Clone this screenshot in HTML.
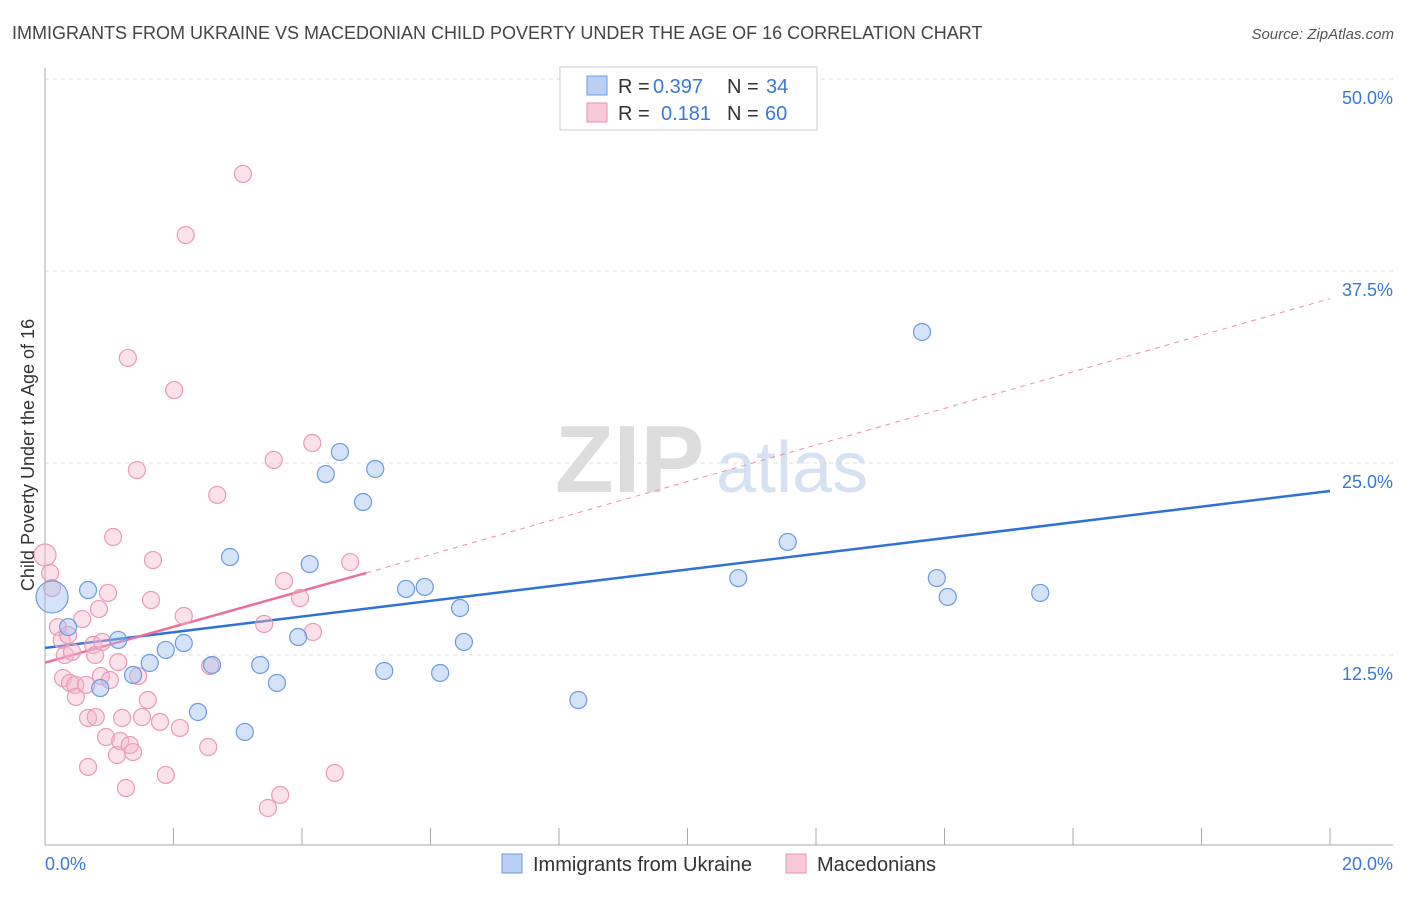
<!DOCTYPE html>
<html><head><meta charset="utf-8"><style>
body{margin:0;background:#fff;font-family:"Liberation Sans",sans-serif;}
svg text{font-family:"Liberation Sans",sans-serif;}
</style></head><body>
<svg id="chart" width="1406" height="892" viewBox="0 0 1406 892">
<text x="12" y="39" font-size="18" fill="#444">IMMIGRANTS FROM UKRAINE VS MACEDONIAN CHILD POVERTY UNDER THE AGE OF 16 CORRELATION CHART</text>
<text x="1394" y="39" font-size="15" fill="#555" text-anchor="end" font-style="italic">Source: ZipAtlas.com</text>
<g>
<text x="555" y="492" font-size="96" fill="#ddd" font-family="Liberation Serif" font-weight="bold">ZIP</text>
<text x="716" y="492" font-size="72" fill="#d6e2f3">atlas</text>
</g>
<g id="grid"></g><g id="axes"></g><g id="trends"></g><g id="points"></g>
<text transform="translate(34,455) rotate(-90)" font-size="18" fill="#333" text-anchor="middle">Child Poverty Under the Age of 16</text>
<g>
<rect x="560" y="67" width="257" height="63" fill="#fff" stroke="#ccc"/>
<rect x="587" y="76" width="20" height="19" fill="#b9d0f2" stroke="#6a9be0"/>
<text x="618" y="93" font-size="20" fill="#333">R =</text>
<text x="653" y="93" font-size="20" fill="#3a78d8">0.397</text>
<text x="727" y="93" font-size="20" fill="#333">N =</text>
<text x="766" y="93" font-size="20" fill="#3a78d8">34</text>
<rect x="587" y="103" width="20" height="19" fill="#f9c9d7" stroke="#e890b0"/>
<text x="618" y="120" font-size="20" fill="#333">R =</text>
<text x="661" y="120" font-size="20" fill="#3a78d8">0.181</text>
<text x="727" y="120" font-size="20" fill="#333">N =</text>
<text x="765" y="120" font-size="20" fill="#3a78d8">60</text>
</g>
<g>
<rect x="502" y="854" width="20" height="19" fill="#b9d0f2" stroke="#6a9be0"/>
<text x="533" y="871" font-size="20" fill="#333">Immigrants from Ukraine</text>
<rect x="786" y="854" width="20" height="19" fill="#f9c9d7" stroke="#e890b0"/>
<text x="817" y="871" font-size="20" fill="#333">Macedonians</text>
</g>
</svg>
<script>
const yTicks=[12.5,25,37.5,50];
const yTickLabels=["12.5%","25.0%","37.5%","50.0%"];
const xTickLabels=["0.0%","20.0%"];
const blueX=[0.11,0.36,0.67,0.86,1.14,1.37,1.63,1.88,2.16,2.38,2.6,2.88,3.11,3.35,3.61,3.94,4.12,4.37,4.59,4.95,5.14,5.28,5.62,5.91,6.15,6.46,6.52,8.3,10.79,11.56,13.65,13.88,14.05,15.49];
const blueY=[16.28,14.32,16.73,10.35,13.48,11.2,11.98,12.83,13.28,8.79,11.85,18.88,7.49,11.85,10.68,13.67,18.42,24.28,25.72,22.46,24.61,11.46,16.8,16.93,11.33,15.56,13.35,9.57,17.51,19.86,33.53,17.51,16.28,16.54];
const pinkX=[0,0.08,0.11,0.2,0.26,0.31,0.36,0.42,0.28,0.39,0.47,0.48,0.58,0.64,0.67,0.67,0.79,0.84,0.87,0.95,0.98,1.01,1.06,1.12,1.14,1.17,1.2,1.26,1.29,1.32,1.37,1.43,1.45,1.51,1.6,1.65,1.68,1.79,1.88,2.01,2.1,2.16,2.19,2.54,2.57,2.68,3.08,3.41,3.47,3.56,3.66,3.72,3.97,4.16,4.17,4.51,4.75,0.75,0.78,0.89];
const pinkY=[19.01,17.84,16.86,14.32,13.48,12.5,13.8,12.7,11.0,10.68,10.55,9.77,14.84,10.55,8.4,5.21,8.46,15.49,11.13,7.16,16.54,10.87,20.18,5.99,12.04,6.9,8.4,3.84,31.84,6.64,6.18,24.54,11.13,8.46,9.57,16.08,18.68,8.14,4.69,29.75,7.75,15.04,39.84,6.51,11.78,22.92,43.82,14.52,2.54,25.2,3.39,17.32,16.21,26.3,14.0,4.82,18.55,13.15,12.5,13.35];
const blueTrend=[12.96,23.18];
const pinkTrend=[12.0,17.84,35.7];
const X=v=>45+v/20*1285, Y=v=>847-v/12.5*192;
const NS="http://www.w3.org/2000/svg";
function mk(p,t,a){const e=document.createElementNS(NS,t);for(const k in a)e.setAttribute(k,a[k]);document.getElementById(p).appendChild(e);return e;}
yTicks.forEach((t,i)=>{
 const g=mk('grid','line',{x1:45,x2:1393,y1:Y(t),y2:Y(t),stroke:'#ddd','stroke-dasharray':'4,4'});
 
 
 const l=mk('grid','text',{x:1393,y:Y(t)+25,'font-size':18,fill:'#3a78d8','text-anchor':'end'});
 l.textContent=yTickLabels[i];
 
 
});
const ax=mk('axes','line',{x1:45,x2:45,y1:68,y2:845,stroke:'#aaa'});


const bx=mk('axes','line',{x1:45,x2:1393,y1:845,y2:845,stroke:'#aaa'});


for(let i=0;i<=10;i++){const t=mk('axes','line',{x1:X(i*2),x2:X(i*2),y1:828,y2:845,stroke:'#aaa'});
 
 }
[[0,'start',45],[20,'end',1393]].forEach((d,i)=>{const t=mk('axes','text',{x:d[2],y:870,'font-size':18,fill:'#3a78d8','text-anchor':d[1]});t.textContent=xTickLabels[i];
 
 });
const pd=mk('trends','line',{x1:X(5),y1:Y(pinkTrend[1]),x2:X(20),y2:Y(pinkTrend[2]),stroke:'#e890b0','stroke-dasharray':'5,5','stroke-width':1});


const bt=mk('trends','line',{x1:X(0),y1:Y(blueTrend[0]),x2:X(20),y2:Y(blueTrend[1]),stroke:'#2f72d6','stroke-width':2.5});


const pt=mk('trends','line',{x1:X(0),y1:Y(pinkTrend[0]),x2:X(5),y2:Y(pinkTrend[1]),stroke:'#e8709a','stroke-width':2.5});


pinkX.forEach((x,i)=>{const c=mk('points','circle',{cx:X(x),cy:Y(pinkY[i]),r:i==0?11:8.5,fill:'rgba(246,182,202,0.4)',stroke:'#eb9ab6','stroke-width':1.2});
 
 });
blueX.forEach((x,i)=>{const c=mk('points','circle',{cx:X(x),cy:Y(blueY[i]),r:i==0?16:8.5,fill:'rgba(160,192,238,0.45)',stroke:'#6a9be0','stroke-width':1.2});
 
 });
</script>
</body></html>
